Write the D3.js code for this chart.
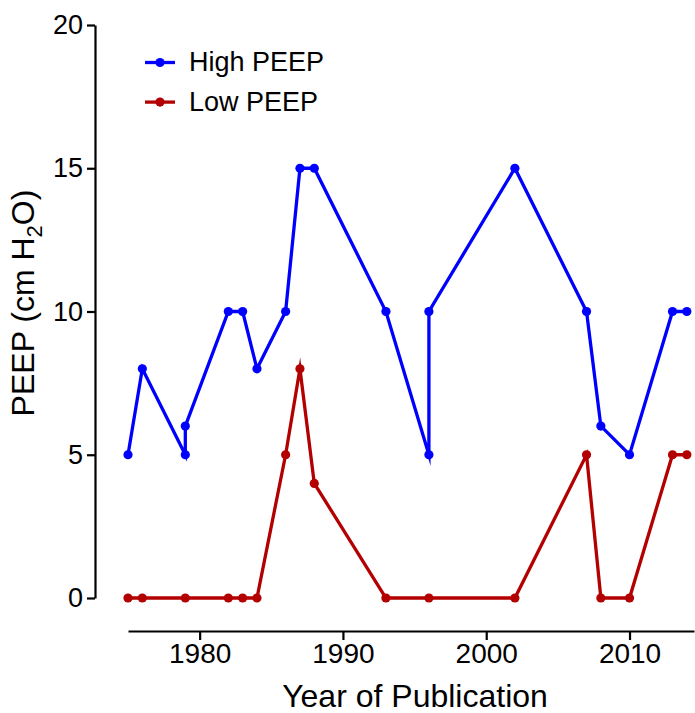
<!DOCTYPE html>
<html>
<head>
<meta charset="utf-8">
<script src="https://cdn.jsdelivr.net/npm/d3@7/dist/d3.min.js"></script>
<style>
body { margin: 0; background: #fff; }
text { font-family: "Liberation Sans", Arial, sans-serif; }
</style>
</head>
<body>
<svg id="chart" width="695" height="713"></svg>
<script>
const highYears = [1975, 1976, 1979, 1979, 1982, 1983, 1984, 1986, 1987, 1988, 1993, 1996, 1996, 2002, 2007, 2008, 2010, 2013, 2014];
const highValues = [5, 8, 5, 6, 10, 10, 8, 10, 15, 15, 10, 5, 10, 15, 10, 6, 5, 10, 10];
const lowYears = [1975, 1976, 1979, 1982, 1983, 1984, 1986, 1987, 1988, 1993, 1996, 2002, 2007, 2008, 2010, 2013, 2014];
const lowValues = [0, 0, 0, 0, 0, 0, 5, 8, 4, 0, 0, 0, 5, 0, 0, 5, 5];
const yTicks = [0, 5, 10, 15, 20];
const xTicks = [1980, 1990, 2000, 2010];
const seriesNames = ["High PEEP", "Low PEEP"];
const seriesColors = ["#0000ff", "#b30000"];

const svg = d3.select("#chart");
const x = d3.scaleLinear().domain([1975, 2014.5]).range([128, 694]);
const y = d3.scaleLinear().domain([0, 20]).range([598, 25]);
const FONT = "Liberation Sans, Arial, sans-serif";

// Y axis
const yAxis = svg.append("g").attr("transform", "translate(95,0)")
  .call(d3.axisLeft(y).tickValues(yTicks).tickSize(8).tickSizeOuter(0).tickPadding(4));
yAxis.attr("font-size", 27).attr("font-family", FONT);
yAxis.select(".domain").attr("stroke", "#000").attr("stroke-width", 2.2);
yAxis.selectAll(".tick line").attr("stroke", "#000").attr("stroke-width", 2.2);
yAxis.selectAll(".tick text").attr("fill", "#000");

// X axis
const xAxis = svg.append("g").attr("transform", "translate(0,631)")
  .call(d3.axisBottom(x).tickValues(xTicks).tickSize(9).tickSizeOuter(0).tickPadding(3).tickFormat(d3.format("d")));
xAxis.attr("font-size", 28).attr("font-family", FONT);
xAxis.select(".domain").attr("stroke", "#000").attr("stroke-width", 2.2);
xAxis.selectAll(".tick line").attr("stroke", "#000").attr("stroke-width", 2.2);
xAxis.selectAll(".tick text").attr("fill", "#000");

// Titles
svg.append("text")
  .attr("x", 415).attr("y", 707)
  .attr("text-anchor", "middle")
  .attr("font-size", 32)
  .attr("fill", "#000")
  .text("Year of Publication");

const yt = svg.append("text")
  .attr("transform", "translate(34,303) rotate(-90)")
  .attr("text-anchor", "middle")
  .attr("font-size", 32)
  .attr("fill", "#000");
yt.append("tspan").text("PEEP (cm H");
yt.append("tspan").attr("font-size", 22).attr("dy", 8).text("2");
yt.append("tspan").attr("dy", -8).text("O)");

// Series
const series = [
  { name: seriesNames[0], color: seriesColors[0], pts: highYears.map((d, i) => [d, highValues[i]]) },
  { name: seriesNames[1], color: seriesColors[1], pts: lowYears.map((d, i) => [d, lowValues[i]]) }
];
const line = d3.line().x(d => x(d[0])).y(d => y(d[1]));

series.slice().reverse().forEach(s => {
  svg.append("path")
    .attr("d", line(s.pts))
    .attr("fill", "none")
    .attr("stroke", s.color)
    .attr("stroke-width", 3.3)
    .attr("stroke-linejoin", "miter")
    .attr("stroke-miterlimit", 10);
  svg.append("g").selectAll("circle").data(s.pts).join("circle")
    .attr("cx", d => x(d[0])).attr("cy", d => y(d[1]))
    .attr("r", 4.6).attr("fill", s.color);
});

// Legend
series.forEach((s, i) => {
  const ly = 62.5 + i * 39.6;
  svg.append("line").attr("x1", 145).attr("x2", 175).attr("y1", ly).attr("y2", ly)
    .attr("stroke", s.color).attr("stroke-width", 3.3);
  svg.append("circle").attr("cx", 160).attr("cy", ly).attr("r", 4.6).attr("fill", s.color);
  svg.append("text").attr("x", 189).attr("y", ly + 8.5)
    .attr("font-size", 27).attr("fill", "#000").text(s.name);
});
</script>
</body>
</html>
